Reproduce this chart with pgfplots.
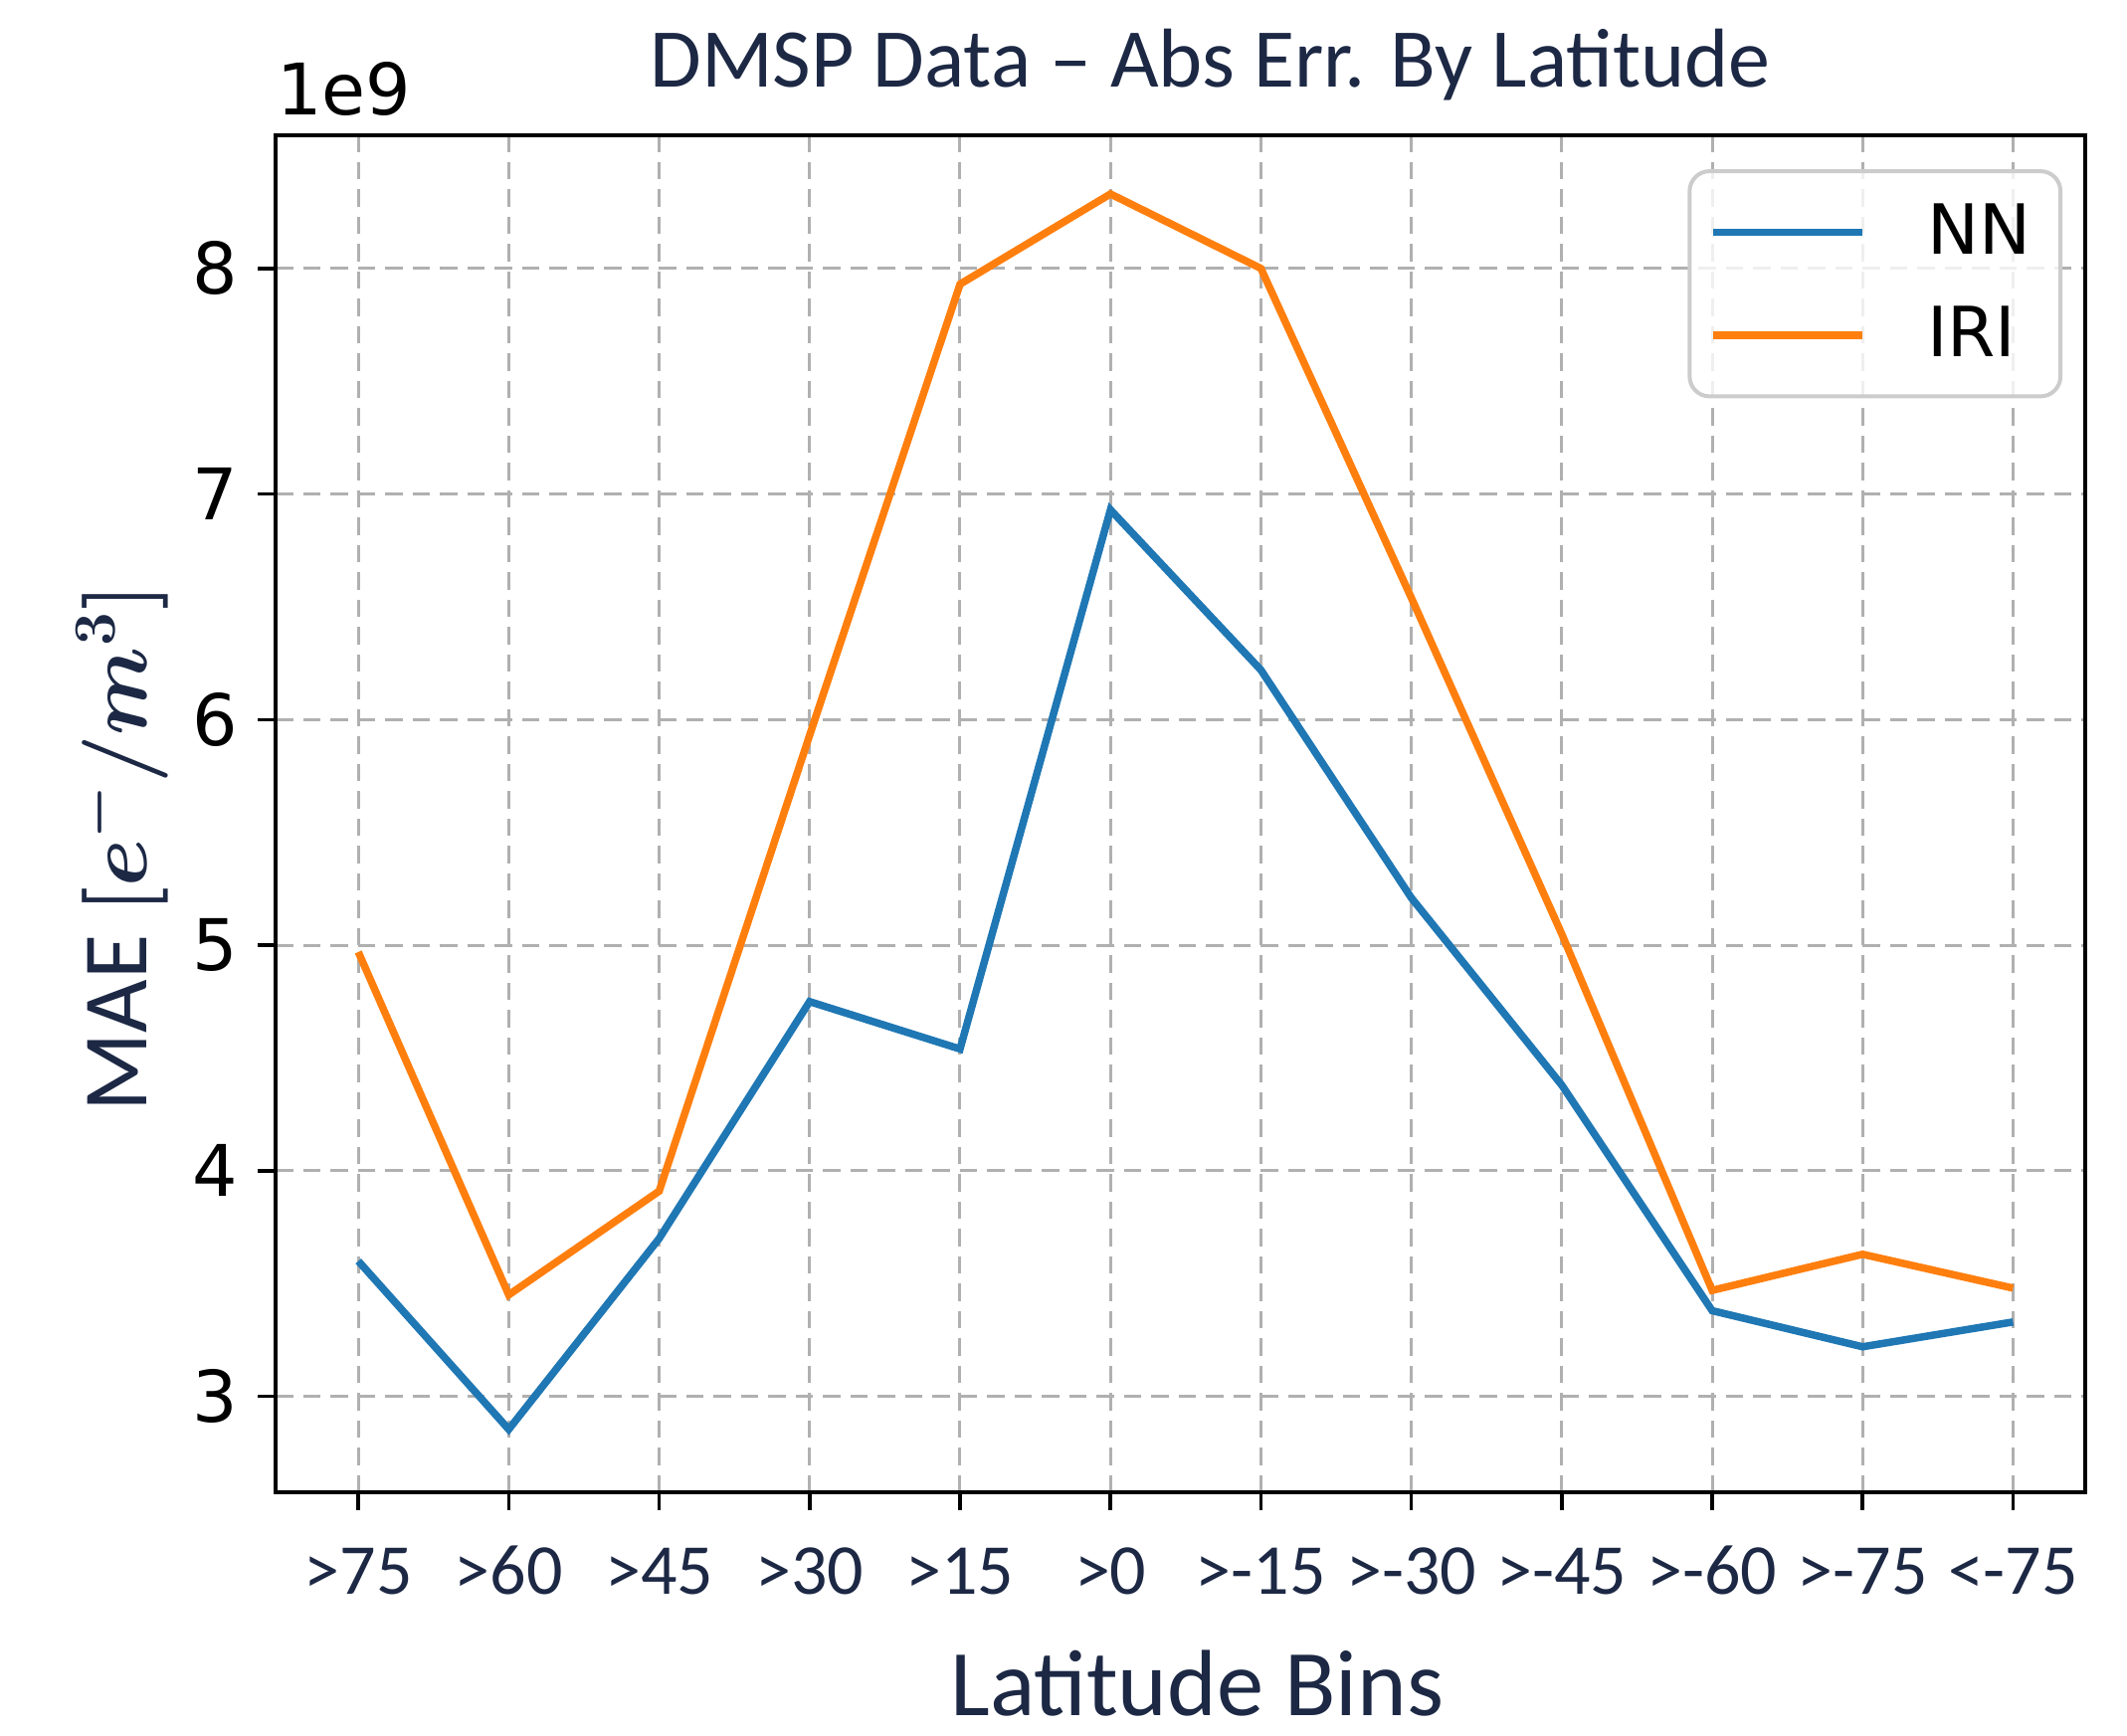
\documentclass[border=0pt]{standalone}
\usepackage{fontspec}
\setmainfont{Carlito}
\newfontfamily\dejavu{DejaVu Sans}
\usepackage{pgfplots}
\usepackage{pgfplotstable}
\pgfplotsset{compat=1.18}

\definecolor{navy}{RGB}{28,40,68}
\definecolor{nnblue}{RGB}{31,119,180}
\definecolor{iriorange}{RGB}{255,127,14}
\definecolor{gridgray}{RGB}{176,176,176}

% mean absolute error per latitude bin, in units of 1e9
\pgfplotstableread{
x  nn    iri
0  3.60  4.97
1  2.854 3.45
2  3.70  3.91
3  4.75  5.93
4  4.54  7.93
5  6.93  8.33
6  6.22  8.00
7  5.21  6.54
8  4.38  5.05
9  3.38  3.47
10 3.22  3.63
11 3.33  3.48
}\maedata

\begin{document}
\begin{tikzpicture}
\begin{axis}[
    name=ax,
    scale only axis,
    width=363.8pt, height=272.8pt,
    xmin=-0.55, xmax=11.48,
    ymin=2.575, ymax=8.59,
    xtick={0,...,11},
    xticklabels={{>75},{>60},{>45},{>30},{>15},{>0},{>-15},{>-30},{>-45},{>-60},{>-75},{<-75}},
    ytick={3,...,8},
    tick pos=left,
    tick align=outside,
    major tick length=3.6pt,
    tick style={black, line width=0.7pt},
    axis line style={black, line width=0.9pt},
    grid=major,
    grid style={gridgray, line width=0.6pt, dash pattern=on 3.5pt off 2pt},
    /pgf/number format/assume math mode=true,
    xticklabel style={font=\fontsize{14.4}{16}\selectfont, text=navy, anchor=base, yshift=-16.8pt},
    yticklabel style={font=\dejavu\fontsize{14.3}{16}\selectfont, xshift=-0.5pt},
    title={DMSP Data – Abs Err. By Latitude},
    title style={font=\fontsize{16.8}{19}\selectfont, text=navy, at={(axis description cs:0.5165,1.0136)}, anchor=base},
    xlabel={Latitude Bins},
    xlabel style={font=\fontsize{18.9}{21}\selectfont, text=navy, at={(axis description cs:0.5093,-0.1645)}, anchor=base},
    ylabel={MAE $[e^{-}/m^{3}]$},
    ylabel style={font=\boldmath\fontsize{18.5}{21}\selectfont, text=navy, at={(axis description cs:-0.0847,0.475)}, anchor=center, rotate=0},
    legend style={
        at={(0.9874,0.975)}, anchor=north east,
        draw=black!20, line width=0.8pt, rounded corners=4pt,
        fill=white, fill opacity=0.8, text opacity=1,
        font=\dejavu\fontsize{13.9}{16}\selectfont,
        inner xsep=4pt, inner ysep=4.5pt,
        row sep=5pt,
    },
    legend image code/.code={\draw[#1, line width=1.5pt] (0pt,0pt) -- (30pt,0pt); \path[draw=none] (0pt,0pt) -- (41pt,0pt);},
    legend cell align=left,
]
\addplot[nnblue, line width=1.5pt] table[x=x, y=nn] {\maedata};
\addlegendentry{NN}
\addplot[iriorange, line width=1.5pt] table[x=x, y=iri] {\maedata};
\addlegendentry{IRI}
\end{axis}
\node[anchor=base west, inner sep=0pt, font=\dejavu\fontsize{14.3}{16}\selectfont] at ([yshift=4pt]ax.north west) {1e9};
\pgfresetboundingbox
\path[use as bounding box] ([xshift=-55.4pt, yshift=-48.8pt]ax.south west) rectangle ([xshift=8.4pt, yshift=27.2pt]ax.north east);
\end{tikzpicture}
\end{document}
